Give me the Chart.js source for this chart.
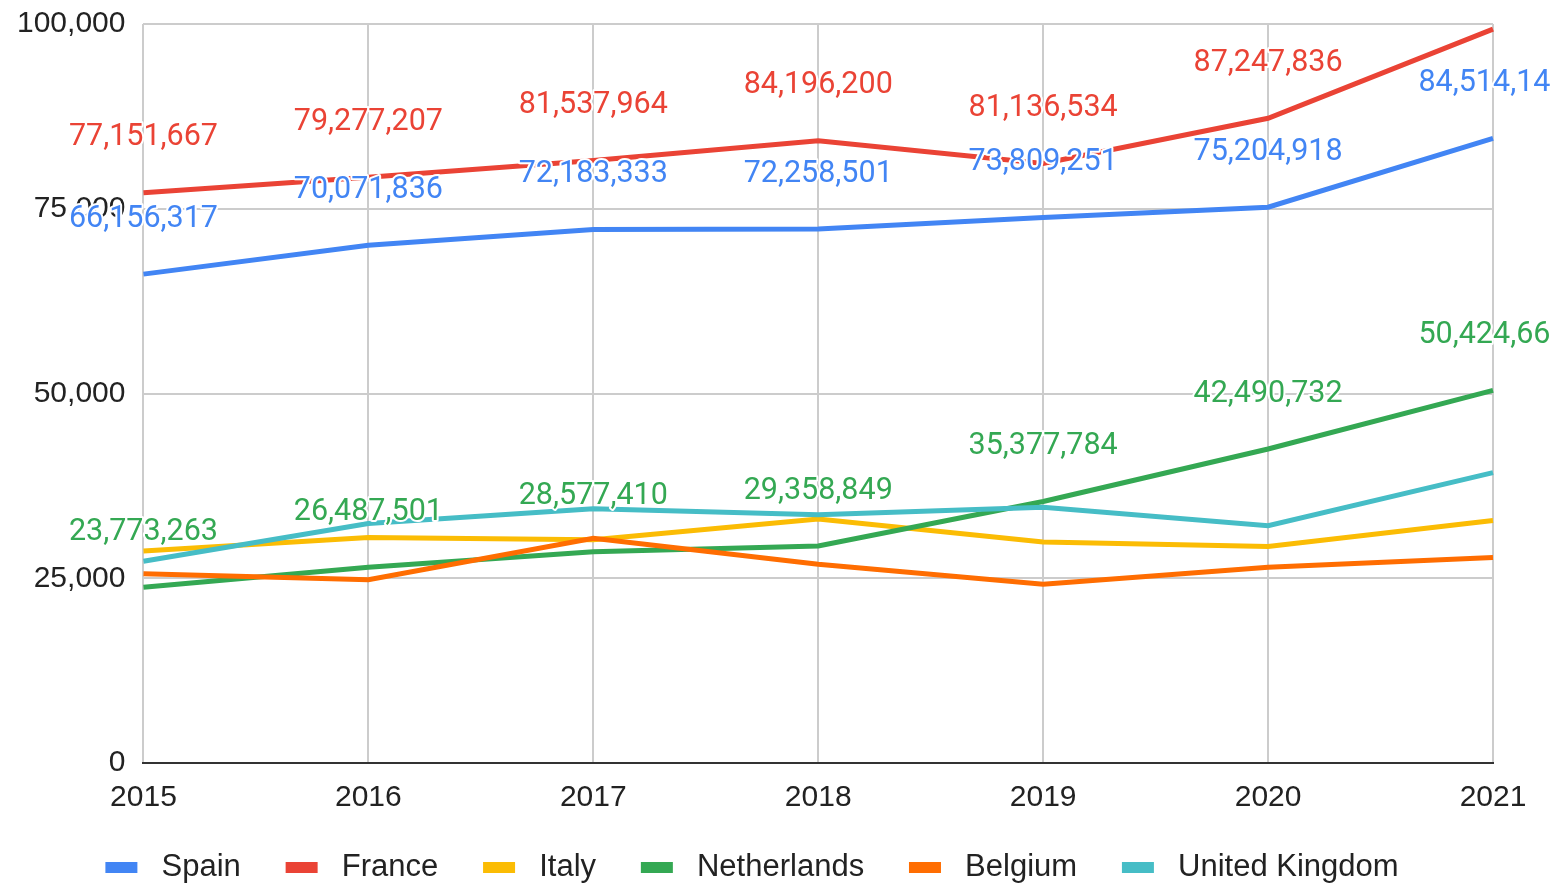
<!DOCTYPE html>
<html>
<head>
<meta charset="utf-8">
<script src="https://cdn.jsdelivr.net/npm/chart.js@4.4.1/dist/chart.umd.min.js"></script>
<style>
  html, body { margin: 0; padding: 0; background: #ffffff; }
  #wrap { width: 1551px; height: 884px; position: relative; }
</style>
</head>
<body>
<div id="wrap"><canvas id="c"></canvas></div>
<script>
// ---- data (values in units; axis shows thousands) ----
const years = ['2015', '2016', '2017', '2018', '2019', '2020', '2021'];
const spain       = [66156317, 70071836, 72183333, 72258501, 73809251, 75204918, 84514140];
const france      = [77151667, 79277207, 81537964, 84196200, 81136534, 87247836, 99300000];
const italy       = [28700000, 30500000, 30200000, 33000000, 29900000, 29300000, 32800000];
const netherlands = [23773263, 26487501, 28577410, 29358849, 35377784, 42490732, 50424660];
const belgium     = [25600000, 24800000, 30400000, 26900000, 24200000, 26500000, 27800000];
const uk          = [27300000, 32400000, 34400000, 33600000, 34600000, 32100000, 39300000];
const seriesNames = ['Spain', 'France', 'Italy', 'Netherlands', 'Belgium', 'United Kingdom'];
const yTickLabels = ['0', '25,000', '50,000', '75,000', '100,000'];
const labelledSeries = ['Spain', 'France', 'Netherlands'];

const colors = ['#4285F4', '#EA4335', '#FBBC04', '#34A853', '#FF6D01', '#46BDC6'];
const seriesData = [spain, france, italy, netherlands, belgium, uk];

const datasets = seriesNames.map((name, i) => ({
  label: name,
  data: seriesData[i],
  borderColor: colors[i],
  backgroundColor: colors[i],
  borderWidth: 5,
  pointRadius: 0,
  pointHoverRadius: 0,
  tension: 0,
  fill: false,
  order: -i,
  showValueLabels: labelledSeries.includes(name)
}));

const valueLabelPlugin = {
  id: 'valueLabels',
  beforeLayout(chart) {
    const lg = chart.legend;
    if (lg && !lg._patchedFit) {
      const orig = lg.fit;
      lg.fit = function () { orig.call(this); this.height = Math.max(0, this.height - 10); };
      lg._patchedFit = true;
    }
  },
  afterDraw(chart) {
    const ctx = chart.ctx;
    ctx.save();
    ctx.font = '30.5px Roboto';
    ctx.textAlign = 'center';
    ctx.textBaseline = 'middle';
    ctx.lineJoin = 'round';
    chart.data.datasets.forEach((ds, di) => {
      if (!ds.showValueLabels) return;
      const meta = chart.getDatasetMeta(di);
      meta.data.forEach((pt, i) => {
        const txt = ds.data[i].toLocaleString('en-US');
        const x = pt.x, y = pt.y - 55;
        ctx.strokeStyle = '#ffffff';
        ctx.lineWidth = 4;
        ctx.strokeText(txt, x, y);
        ctx.fillStyle = ds.borderColor;
        ctx.fillText(txt, x, y);
      });
    });
    ctx.restore();
  }
};

new Chart(document.getElementById('c'), {
  type: 'line',
  data: { labels: years, datasets },
  plugins: [valueLabelPlugin],
  options: {
    responsive: true,
    maintainAspectRatio: false,
    animation: false,
    layout: { padding: { left: 11, right: 58, top: 0, bottom: 1 } },
    plugins: {
      tooltip: { enabled: false },
      legend: {
        position: 'bottom',
        labels: {
          font: { family: 'Liberation Sans, Arial', size: 31 },
          color: '#222222',
          boxWidth: 32,
          boxHeight: 11,
          padding: 19,
          sort: (a, b) => a.datasetIndex - b.datasetIndex,
          generateLabels: (chart) => chart.data.datasets.map((ds, i, arr) => ({
            text: ' ' + ds.label + (i < arr.length - 1 ? '   ' : ''),
            fillStyle: ds.borderColor,
            strokeStyle: ds.borderColor,
            lineWidth: 0,
            hidden: false,
            datasetIndex: i,
            fontColor: '#222222'
          }))
        }
      }
    },
    scales: {
      x: {
        grid: { color: '#cccccc', lineWidth: 2, drawTicks: false },
        border: { color: '#333333', width: 2 },
        ticks: {
          font: { family: 'Liberation Sans, Arial', size: 30 },
          color: '#222222',
          padding: 17,
          maxRotation: 0,
          autoSkip: false
        }
      },
      y: {
        min: 0,
        max: 100000000,
        grid: { color: '#cccccc', lineWidth: 2, drawTicks: true, tickLength: 12, tickColor: 'rgba(0,0,0,0)' },
        border: { display: false },
        ticks: {
          stepSize: 25000000,
          font: { family: 'Liberation Sans, Arial', size: 30 },
          color: '#222222',
          padding: 6,
          callback: (v, idx) => yTickLabels[idx]
        }
      }
    }
  }
});
</script>
</body>
</html>
